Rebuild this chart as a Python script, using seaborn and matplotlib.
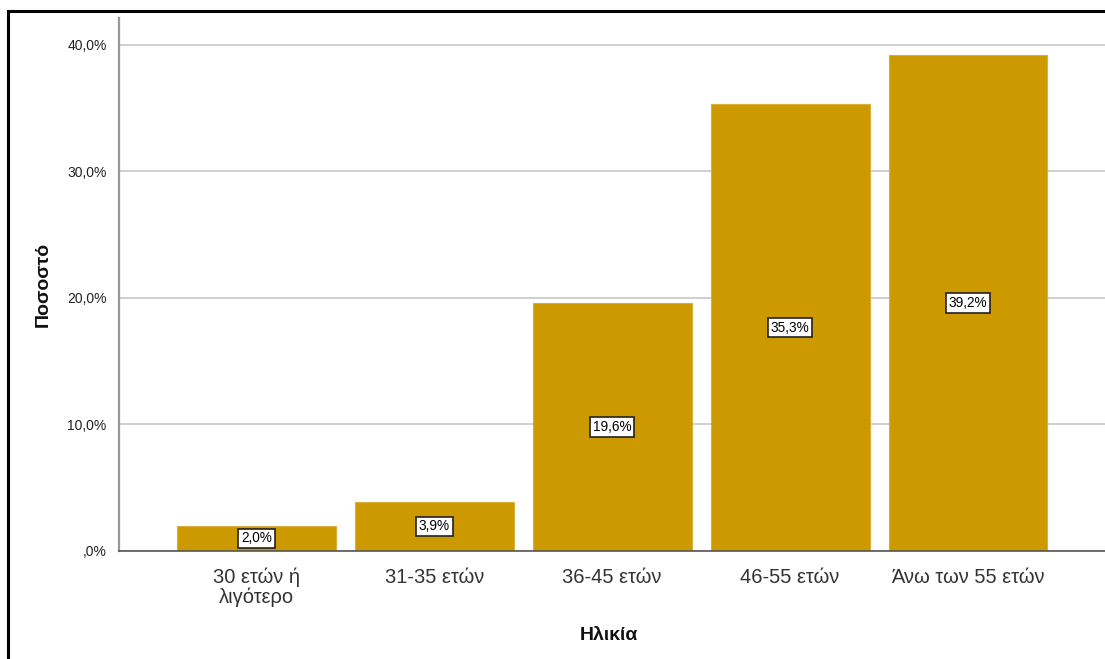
import matplotlib
matplotlib.use("Agg")
import matplotlib.pyplot as plt
import seaborn as sns
import pandas as pd
from matplotlib.patches import Rectangle

# Age groups and their percentage shares
categories = ["30 ετών ή\nλιγότερο", "31-35 ετών", "36-45 ετών", "46-55 ετών", "Άνω των 55 ετών"]
percentages = [2.0, 3.9, 19.6, 35.3, 39.2]
y_ticks = [0, 10, 20, 30, 40]
y_tick_labels = [",0%", "10,0%", "20,0%", "30,0%", "40,0%"]

sns.set_theme(style="white")
plt.rcParams["font.family"] = ["Liberation Sans", "DejaVu Sans"]

df = pd.DataFrame({"Ηλικία": categories, "Ποσοστό": percentages})

fig = plt.figure(figsize=(11.05, 6.59), dpi=100)
ax = fig.add_axes([0.1077, 0.1639, 0.8923, 0.8088])

sns.barplot(data=df, x="Ηλικία", y="Ποσοστό", color="#CC9900", saturation=1,
            width=0.893, edgecolor="#D9AE3A", linewidth=0.8, ax=ax, zorder=3)

ax.set_xlim(-0.772, 4.77)
ax.set_ylim(0, 42.1)
ax.set_yticks(y_ticks)
ax.set_yticklabels(y_tick_labels)
ax.yaxis.grid(True, color="#CFCFCF", linewidth=1.4, zorder=0)
ax.xaxis.grid(False)
ax.tick_params(axis="y", length=0, pad=9, labelsize=10, labelcolor="#222222")
ax.tick_params(axis="x", length=0, pad=12, labelsize=14.5, labelcolor="#333333")
for lbl in ax.get_xticklabels():
    lbl.set_linespacing(1.0)

for side in ["top", "right"]:
    ax.spines[side].set_visible(False)
ax.spines["left"].set_color("#999999")
ax.spines["left"].set_linewidth(1.6)
ax.spines["bottom"].set_color("#555555")
ax.spines["bottom"].set_linewidth(1.2)
ax.spines["bottom"].set_zorder(4)

ax.set_xlabel("Ηλικία", fontsize=14, fontweight="bold", color="#111111")
ax.set_ylabel("Ποσοστό", fontsize=14, fontweight="bold", color="#111111")
ax.xaxis.set_label_coords(0.497, -0.142)
ax.yaxis.set_label_coords(-0.068, 0.5)

# value labels centred in each bar
for i, v in enumerate(percentages):
    ax.text(i, v / 2, f"{v:.1f}%".replace(".", ","), ha="center", va="center",
            fontsize=9.8, color="black", zorder=5,
            bbox=dict(boxstyle="square,pad=0.2", facecolor="white",
                      edgecolor="#222222", linewidth=1.2))

# outer chart frame
fig.patches.append(Rectangle((8 / 1105, -0.1), 1.2, (659 - 11) / 659 + 0.1,
                             transform=fig.transFigure, fill=False,
                             edgecolor="black", linewidth=2.2, zorder=10))

fig.savefig("out.png", dpi=100)
